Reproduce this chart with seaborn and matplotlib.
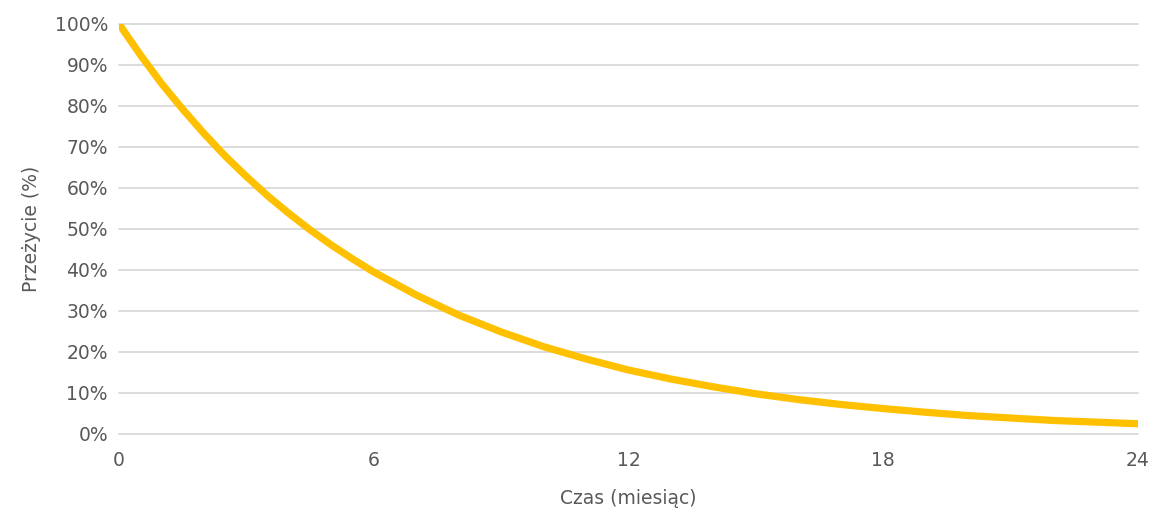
import numpy as np
import matplotlib
matplotlib.use('Agg')
import matplotlib.pyplot as plt
import pandas as pd
import seaborn as sns
from matplotlib.ticker import FuncFormatter

# czas w miesiącach i odczytane przeżycie (%)
months = [0, 0.5, 1, 1.5, 2, 2.5, 3, 3.5, 4, 4.5, 5, 5.5, 6, 7, 8, 9, 10, 11, 12,
          13, 14, 15, 16, 17, 18, 19, 20, 21, 22, 23, 24]
survival = [100, 92.5, 85.5, 79.2, 73.3, 67.8, 62.8, 58.1, 53.8, 49.8, 46.1, 42.7, 39.5,
            33.9, 29.0, 24.9, 21.3, 18.3, 15.6,
            13.4, 11.5, 9.8, 8.4, 7.2, 6.2, 5.3, 4.5, 3.9, 3.3, 2.9, 2.5]
x_ticks = [0, 6, 12, 18, 24]
y_ticks = [0, 10, 20, 30, 40, 50, 60, 70, 80, 90, 100]

df = pd.DataFrame({'czas': months, 'przezycie': survival})

sns.set_style('white')
plt.rcParams['font.family'] = ['DejaVu Sans']

fig = plt.figure(figsize=(11.58, 5.15), dpi=100)
ax = fig.add_axes([0.1028, 0.1573, 0.8799, 0.7961])

sns.lineplot(data=df, x='czas', y='przezycie', ax=ax, color='#FFC000', linewidth=5.2)

ax.set_xlim(0, 24)
ax.set_ylim(0, 100)
ax.set_xticks(x_ticks)
ax.set_yticks(y_ticks)
ax.yaxis.set_major_formatter(FuncFormatter(lambda v, p: f'{int(v)}%'))
ax.grid(axis='y', color='#D9D9D9', linewidth=1.3)
for gl in ax.get_ygridlines():
    gl.set_clip_on(False)
ax.set_axisbelow(True)
for s in ax.spines.values():
    s.set_visible(False)
ax.tick_params(axis='both', length=0, labelsize=13.5, colors='#595959')
ax.tick_params(axis='x', pad=12)
ax.tick_params(axis='y', pad=8)
ax.set_xlabel('Czas (miesiąc)', fontsize=13.5, color='#595959', labelpad=14)
ax.set_ylabel('Przeżycie (%)', fontsize=13.5, color='#595959', labelpad=10)

fig.savefig('out.png', dpi=100)
